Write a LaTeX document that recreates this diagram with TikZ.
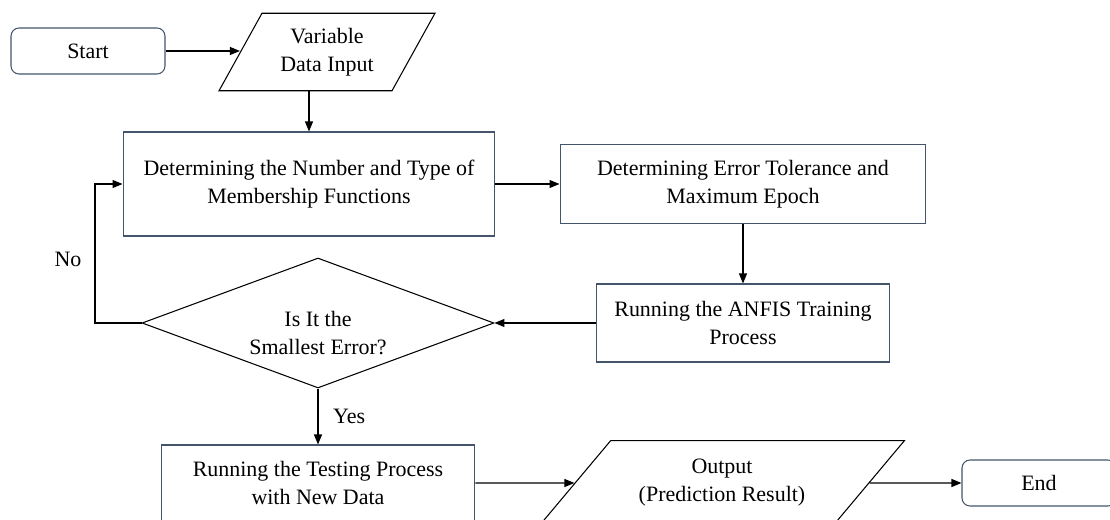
\documentclass[tikz,border=0pt]{standalone}
\usepackage{fontspec}
\setmainfont{Liberation Serif}
\usetikzlibrary{shapes.geometric,arrows.meta}
\definecolor{boxline}{HTML}{44546A}
\tikzset{
    terminal/.style={draw=boxline,rounded corners=1.6mm,minimum width=3.08cm,minimum height=0.92cm},
    process/.style={draw=boxline,align=center},
    io/.style={draw,trapezium,trapezium stretches body,align=center},
    decision/.style={draw,diamond,aspect=2.7,align=center,inner sep=0pt},
    flow/.style={-{Triangle[length=2mm,width=1.6mm]}}
}

\begin{document}
\begin{tikzpicture}[x=0.02cm,y=-0.02cm,line width=0.6pt,font=\fontsize{12.5}{16}\selectfont]
	    \useasboundingbox (0,0) rectangle (1110,520);
	    \node[terminal] (start) at (88,51) {Start};
	    \node[io,trapezium left angle=61,trapezium right angle=119,minimum width=4.32cm,inner ysep=0.295cm] (input) at (327,52) {Variable\\Data Input};
	    \node[process,minimum width=7.44cm,minimum height=2.08cm] (mf) at (309,184) {Determining the Number and Type of\\Membership Functions};
	    \node[process,minimum width=7.32cm,minimum height=1.58cm] (epoch) at (743,184) {Determining Error Tolerance and\\Maximum Epoch};
	    \node[process,minimum width=5.86cm,minimum height=1.56cm] (train) at (743,323) {Running the ANFIS Training\\Process};
	    \node[decision,minimum width=7.04cm,minimum height=2.6cm,text height=36pt] (decide) at (318,323) {Is It the\\Smallest Error?};
	    \node[process,minimum width=6.28cm,minimum height=1.52cm] (test) at (318,483) {Running the Testing Process\\with New Data};
	    \node[io,trapezium left angle=50,trapezium right angle=130,minimum width=7.3cm,inner ysep=0.375cm] (output) at (722,483) {Output\\(Prediction Result)};
	    \node[terminal] (stop) at (1039,483) {End};
	    \node (no) at (68,259) {No};
	    \coordinate (loop) at (95,323);
	    \draw[flow] (start) -- (start -| input.west);
	    \draw[flow] (input.south -| mf) -- (mf);
	    \draw[flow] (mf) -- (epoch);
	    \draw[flow] (epoch) -- (train);
	    \draw[flow] (train) -- (decide);
	    \draw[flow] (decide.west) -- (loop) |- (mf);
	    \draw[flow] (decide) -- node[right=5pt] {Yes} (test);
	    \draw[flow] (test) -- (output);
	    \draw[flow] (output) -- (stop);
	\end{tikzpicture}
\end{document}
